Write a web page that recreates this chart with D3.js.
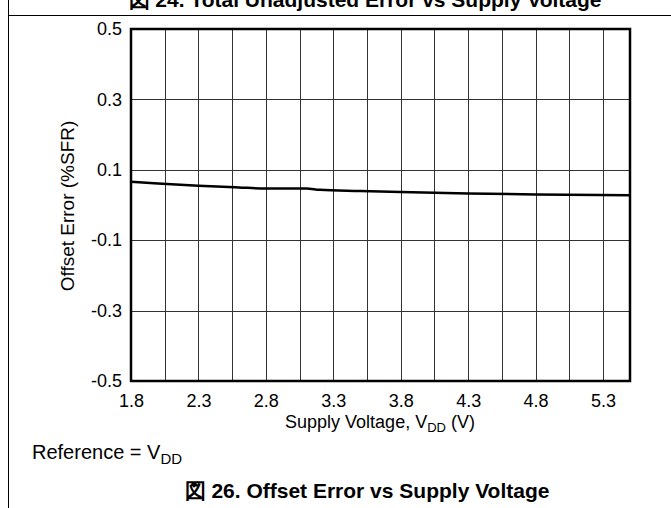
<!DOCTYPE html>
<html>
<head>
<meta charset="utf-8">
<script src="https://cdn.jsdelivr.net/npm/d3@7"></script>
<style>
  body { margin: 0; background: #fff; }
  text { font-family: "Liberation Sans", Arial, sans-serif; fill: #000; }
</style>
</head>
<body>
<script>
// data
var voltage = [1.8, 2.0, 2.3, 2.6, 2.8, 3.1, 3.2, 3.5, 3.8, 4.3, 4.8, 5.5];
var offsetErr = [0.066, 0.061, 0.055, 0.050, 0.047, 0.047, 0.043, 0.040, 0.037, 0.033, 0.030, 0.028];
var xTicks = [1.8, 2.3, 2.8, 3.3, 3.8, 4.3, 4.8, 5.3];
var yTicks = [-0.5, -0.3, -0.1, 0.1, 0.3, 0.5];

var width = 671, height = 508;
// (don't call these top/left - window.top is read only)
var plotL = 131, plotR = 630, plotT = 29, plotB = 381;

// plain hyphen for negatives, like the original
function fmt(d) { return d.toFixed(1); }

var svg = d3.select("body")
    .append("svg")
    .attr("width", width)
    .attr("height", height);

// page frame
svg.append("line")
    .attr("x1", 8.5).attr("x2", 8.5)
    .attr("y1", 0).attr("y2", height)
    .attr("stroke", "#000").attr("stroke-width", 1);
svg.append("line")
    .attr("x1", 8).attr("x2", width)
    .attr("y1", 15.5).attr("y2", 15.5)
    .attr("stroke", "#000").attr("stroke-width", 1);

// previous figure title, clipped at top
svg.append("text")
    .attr("x", 365).attr("y", 7)
    .attr("text-anchor", "middle")
    .style("font-size", "21px").style("font-weight", "bold")
    .text("図 24. Total Unadjusted Error vs Supply Voltage");

var x = d3.scaleLinear().domain([1.8, 5.5]).range([plotL, plotR]);
var y = d3.scaleLinear().domain([-0.5, 0.5]).range([plotB, plotT]);

// grid
svg.append("g")
    .selectAll("line")
    .data(d3.range(2.05, 5.5, 0.25))
    .enter().append("line")
    .attr("x1", function(d) { return Math.round(x(d)) + 0.5; })
    .attr("x2", function(d) { return Math.round(x(d)) + 0.5; })
    .attr("y1", plotT).attr("y2", plotB)
    .attr("stroke", "#333").attr("stroke-width", 1);

svg.append("g")
    .selectAll("line")
    .data(yTicks.slice(1, -1))
    .enter().append("line")
    .attr("x1", plotL).attr("x2", plotR)
    .attr("y1", function(d) { return Math.round(y(d)) + 0.5; })
    .attr("y2", function(d) { return Math.round(y(d)) + 0.5; })
    .attr("stroke", "#333").attr("stroke-width", 1);

// axes (labels only)
var xAxis = svg.append("g")
    .attr("transform", "translate(0," + plotB + ")")
    .call(d3.axisBottom(x).tickValues(xTicks).tickSize(0).tickPadding(13)
        .tickFormat(fmt));
xAxis.select(".domain").remove();
xAxis.selectAll("text").style("font-size", "18px").style("font-family", "Liberation Sans, Arial, sans-serif");

var yAxis = svg.append("g")
    .attr("transform", "translate(" + plotL + ",0)")
    .call(d3.axisLeft(y).tickValues(yTicks).tickSize(0).tickPadding(9)
        .tickFormat(fmt));
yAxis.select(".domain").remove();
yAxis.selectAll("text").style("font-size", "18px").style("font-family", "Liberation Sans, Arial, sans-serif");

// curve
var line = d3.line()
    .x(function(d, i) { return x(voltage[i]); })
    .y(function(d) { return y(d); })
    .curve(d3.curveMonotoneX);

svg.append("path")
    .datum(offsetErr)
    .attr("d", line)
    .attr("fill", "none")
    .attr("stroke", "#000")
    .attr("stroke-width", 2.5);

// plot border
svg.append("rect")
    .attr("x", plotL).attr("y", plotT)
    .attr("width", plotR - plotL).attr("height", plotB - plotT)
    .attr("fill", "none")
    .attr("stroke", "#000").attr("stroke-width", 2.5);

// axis titles
var xt = svg.append("text")
    .attr("x", 380).attr("y", 428)
    .attr("text-anchor", "middle")
    .style("font-size", "18px");
xt.append("tspan").text("Supply Voltage, V");
xt.append("tspan").attr("dy", 4).style("font-size", "13px").text("DD");
xt.append("tspan").attr("dy", -4).text(" (V)");

svg.append("text")
    .attr("transform", "translate(74,206) rotate(-90)")
    .attr("text-anchor", "middle")
    .style("font-size", "19px")
    .text("Offset Error (%SFR)");

var rt = svg.append("text")
    .attr("x", 32).attr("y", 459)
    .style("font-size", "20px");
rt.append("tspan").text("Reference = V");
rt.append("tspan").attr("dy", 5).style("font-size", "15px").text("DD");

svg.append("text")
    .attr("x", 367).attr("y", 498)
    .attr("text-anchor", "middle")
    .style("font-size", "21px").style("font-weight", "bold")
    .text("図 26. Offset Error vs Supply Voltage");
</script>
</body>
</html>
